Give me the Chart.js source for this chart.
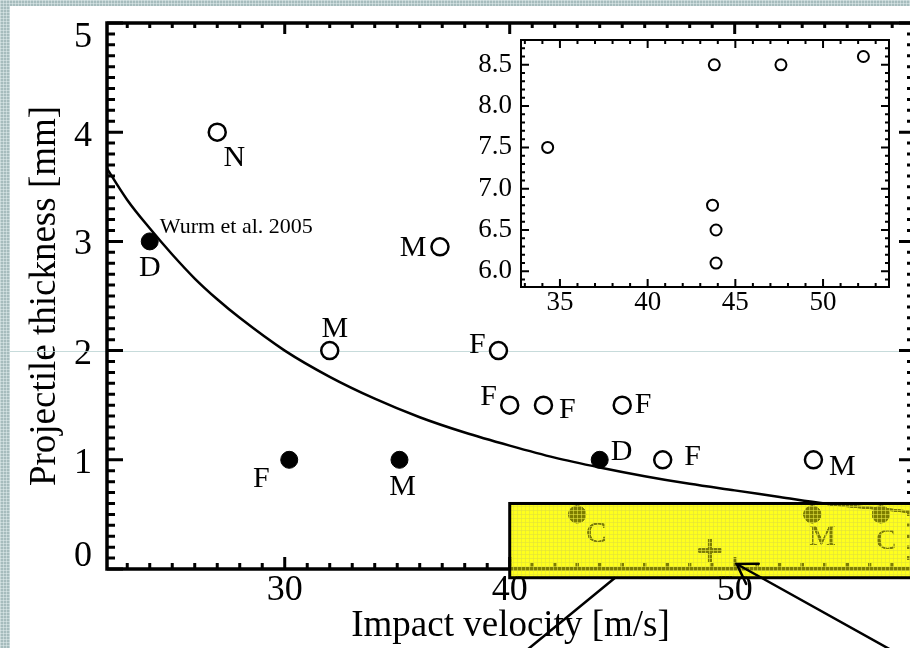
<!DOCTYPE html>
<html>
<head>
<meta charset="utf-8">
<script src="https://cdn.jsdelivr.net/npm/chart.js@4.4.1/dist/chart.umd.min.js"></script>
<style>
  html, body { margin:0; padding:0; width:910px; height:648px; overflow:hidden; }
  body {
    position:relative;
    background-color:#a6bcbd;
    background-image:
      linear-gradient(90deg, rgba(235,245,245,0.45) 1px, transparent 1px),
      linear-gradient(rgba(235,245,245,0.45) 1px, transparent 1px);
    background-size:3px 3px;
  }
  #paper { position:absolute; left:10px; top:6px; width:900px; height:642px; background:#fff; }
  #main { position:absolute; left:0; top:0; }
  #inset { position:absolute; left:470px; top:30px; }
</style>
</head>
<body>
<div id="paper"></div>
<canvas id="main" width="940" height="648"></canvas>
<canvas id="inset" width="430" height="290"></canvas>
<script>
// ---------------- data ----------------
const xTitle = 'Impact velocity [m/s]';
const yTitle = 'Projectile thickness [mm]';
const xTickValues = [30, 40, 50];
const yTickValues = [0, 1, 2, 3, 4, 5];

// open circles (with labels)
const openVel = [27.0, 36.9, 32.0, 39.5, 40.0, 41.5, 45.0, 46.8, 53.5];
const openThk = [4.0, 2.95, 2.0, 2.0, 1.5, 1.5, 1.5, 1.0, 1.0];
const openLab = ['N', 'M', 'M', 'F', 'F', 'F', 'F', 'F', 'M'];

// filled circles
const fillVel = [24.0, 30.2, 35.1, 44.0];
const fillThk = [3.0, 1.0, 1.0, 1.0];
const fillLab = ['D', 'F', 'M', 'D'];
const refNote = 'Wurm et al. 2005';

// points under the highlighted (yellow) band
const bandVel = [43.0, 53.45, 56.5];
const bandThk = [0.5, 0.5, 0.5];
const bandLab = ['C', 'M', 'C'];
const crossVel = [48.9];
const crossThk = [0.17];

// fitted curve
const curveVel = [22, 23, 24, 25, 26, 27, 28, 30, 32, 34, 36, 38, 40, 42, 44, 46, 48, 50, 52, 54, 56, 58];
const curveThk = [3.70, 3.38, 3.12, 2.88, 2.66, 2.47, 2.30, 2.00, 1.76, 1.56, 1.39, 1.25, 1.13, 1.02, 0.93, 0.85, 0.78, 0.72, 0.66, 0.60, 0.56, 0.52];

// inset
const insetXTicks = [35, 40, 45, 50];
const insetYTicks = [6.0, 6.5, 7.0, 7.5, 8.0, 8.5];
const insetVel = [34.3, 43.8, 47.6, 52.3, 43.7, 43.9, 43.9];
const insetVal = [7.5, 8.5, 8.5, 8.6, 6.8, 6.5, 6.1];

// ---------------- styles ----------------
const SERIF = "'Liberation Serif', 'Times New Roman', Times, serif";
const openOff = [[17, 26], [-27, 1], [5, -21], [-21, -5], [-21, -8], [24, 5], [21, 0], [30, -3], [29, 7]];
const fillOff = [[0, 27], [-28, 19], [3, 27], [22, -8]];
const bandOff = [[19, 20], [10, 23], [5, 27]];
const refOff = [10, -14];
// vertical nudge (px, + = down) of each y tick label, as in the original figure
const yLabelNudge = [-12, 4, 4, 3, 4, 15];

const toXY = (xs, ys) => xs.map((v, i) => ({x: v, y: ys[i]}));
const zeroPad = s => { s.paddingTop = 0; s.paddingBottom = 0; s.paddingLeft = 0; s.paddingRight = 0; };

function drawFrame(chart, o) {
  const {ctx, chartArea: a} = chart;
  const xs = chart.scales.x, ys = chart.scales.y;
  ctx.save();
  ctx.strokeStyle = '#000';
  ctx.lineCap = 'butt';
  ctx.lineWidth = o.tickW;
  ctx.beginPath();
  const i0 = Math.ceil(xs.min / o.xMinor - 1e-9), i1 = Math.floor(xs.max / o.xMinor + 1e-9);
  for (let i = i0; i <= i1; i++) {
    const v = i * o.xMinor, px = xs.getPixelForValue(v);
    const r = v / o.xMajor, maj = Math.abs(r - Math.round(r)) < 1e-6;
    ctx.moveTo(px, a.bottom); ctx.lineTo(px, a.bottom - (maj ? o.bMaj : o.bMin));
    ctx.moveTo(px, a.top); ctx.lineTo(px, a.top + (maj ? o.tMaj : o.tMin));
  }
  const j0 = Math.ceil(ys.min / o.yMinor - 1e-9), j1 = Math.floor(ys.max / o.yMinor + 1e-9);
  for (let j = j0; j <= j1; j++) {
    const v = j * o.yMinor, py = ys.getPixelForValue(v);
    const r = v / o.yMajor, maj = Math.abs(r - Math.round(r)) < 1e-6;
    ctx.moveTo(a.left, py); ctx.lineTo(a.left + (maj ? o.lMaj : o.lMin), py);
    ctx.moveTo(a.right, py); ctx.lineTo(a.right - (maj ? o.rMaj : o.rMin), py);
  }
  ctx.stroke();
  ctx.lineWidth = o.spine;
  ctx.strokeRect(a.left, a.top, a.right - a.left, a.bottom - a.top);
  ctx.restore();
}

function drawLabels(chart, xsArr, ysArr, labs, offs, font) {
  const {ctx} = chart;
  const xs = chart.scales.x, ys = chart.scales.y;
  ctx.save();
  ctx.fillStyle = '#000';
  ctx.font = font;
  ctx.textAlign = 'center';
  ctx.textBaseline = 'middle';
  labs.forEach((t, i) => {
    ctx.fillText(t, xs.getPixelForValue(xsArr[i]) + offs[i][0], ys.getPixelForValue(ysArr[i]) + offs[i][1]);
  });
  ctx.restore();
}

function arrowLine(ctx, xs, ys, x0, y0, x1, y1, head) {
  const ax = xs.getPixelForValue(x0), ay = ys.getPixelForValue(y0);
  const bx = xs.getPixelForValue(x1), by = ys.getPixelForValue(y1);
  ctx.beginPath(); ctx.moveTo(ax, ay); ctx.lineTo(bx, by); ctx.stroke();
  if (head) {
    const ang = Math.atan2(ay - by, ax - bx);
    const L = 22;
    ctx.beginPath();
    ctx.moveTo(bx + L * Math.cos(ang - 0.52), by + L * Math.sin(ang - 0.52));
    ctx.lineTo(bx, by);
    ctx.lineTo(bx + L * Math.cos(ang + 0.62), by + L * Math.sin(ang + 0.62));
    ctx.stroke();
  }
}

const mainPlugin = {
  id: 'mainDecor',
  beforeDatasetsDraw(chart) {
    const {ctx} = chart;
    const py = chart.scales.y.getPixelForValue(2);
    ctx.save();
    ctx.strokeStyle = 'rgba(185,210,210,0.8)';
    ctx.lineWidth = 1;
    ctx.beginPath(); ctx.moveTo(10, Math.round(py) + 0.5); ctx.lineTo(940, Math.round(py) + 0.5); ctx.stroke();
    ctx.restore();
  },
  afterDraw(chart) {
    const {ctx} = chart;
    const xs = chart.scales.x, ys = chart.scales.y;
    drawFrame(chart, {tickW: 3, spine: 3.5, xMinor: 1, xMajor: 10, yMinor: 0.1, yMajor: 1,
      bMaj: 12, bMin: 6, tMaj: 11, tMin: 5, lMaj: 16, lMin: 8, rMaj: 15, rMin: 7});
    const f = '30px ' + SERIF;
    drawLabels(chart, openVel, openThk, openLab, openOff, f);
    drawLabels(chart, fillVel, fillThk, fillLab, fillOff, f);
    drawLabels(chart, bandVel, bandThk, bandLab, bandOff, f);
    // reference note
    ctx.save();
    ctx.font = '22px ' + SERIF;
    ctx.fillStyle = '#000';
    ctx.textAlign = 'left';
    ctx.textBaseline = 'middle';
    ctx.fillText(refNote, xs.getPixelForValue(fillVel[0]) + refOff[0], ys.getPixelForValue(fillThk[0]) + refOff[1]);
    ctx.restore();

    // yellow highlight band
    const bx0 = xs.getPixelForValue(40), bx1 = xs.getPixelForValue(61);
    const by0 = ys.getPixelForValue(0.6), by1 = ys.getPixelForValue(-0.08);
    ctx.save();
    ctx.globalCompositeOperation = 'multiply';
    ctx.fillStyle = 'rgb(255,255,30)';
    ctx.fillRect(bx0, by0, bx1 - bx0, by1 - by0);
    ctx.globalCompositeOperation = 'lighten';
    ctx.fillStyle = 'rgb(125,125,0)';
    ctx.fillRect(bx0, by0, bx1 - bx0, by1 - by0);
    ctx.globalCompositeOperation = 'source-over';
    ctx.strokeStyle = 'rgba(225,225,60,0.6)';
    ctx.lineWidth = 1;
    ctx.beginPath();
    for (let x = bx0 + 3; x < bx1; x += 4) { ctx.moveTo(Math.round(x) + 0.5, by0); ctx.lineTo(Math.round(x) + 0.5, by1); }
    for (let y = by0 + 3; y < by1; y += 4) { ctx.moveTo(bx0, Math.round(y) + 0.5); ctx.lineTo(bx1, Math.round(y) + 0.5); }
    ctx.stroke();
    ctx.strokeStyle = '#000';
    ctx.lineWidth = 3;
    ctx.strokeRect(bx0, by0, bx1 - bx0, by1 - by0);
    // arrows
    ctx.lineWidth = 2.5;
    ctx.lineCap = 'round';
    arrowLine(ctx, xs, ys, 44.67, -0.082, 40.6, -0.77, false);
    arrowLine(ctx, xs, ys, 57.2, -0.77, 50.09, 0.046, true);
    ctx.restore();
  }
};

new Chart(document.getElementById('main'), {
  type: 'scatter',
  data: {
    datasets: [
      { type: 'line', data: toXY(curveVel, curveThk), borderColor: '#000', borderWidth: 2.5,
        pointRadius: 0, cubicInterpolationMode: 'monotone', fill: false, order: 5 },
      { data: toXY(openVel, openThk), pointStyle: 'circle', pointRadius: 8.5, borderWidth: 2.5,
        borderColor: '#000', backgroundColor: '#fff', clip: false, order: 1 },
      { data: toXY(fillVel, fillThk), pointStyle: 'circle', pointRadius: 8.5, borderWidth: 1,
        borderColor: '#000', backgroundColor: '#000', clip: false, order: 1 },
      { data: toXY(bandVel, bandThk), pointStyle: 'circle', pointRadius: 8.5, borderWidth: 1,
        borderColor: '#000', backgroundColor: '#000', clip: false, order: 1 },
      { data: toXY(crossVel, crossThk), pointStyle: 'cross', pointRadius: 11.5, borderWidth: 4,
        borderColor: '#000', clip: false, order: 1 }
    ]
  },
  options: {
    responsive: false,
    animation: false,
    events: [],
    layout: { padding: { left: 0, top: 23, right: 26, bottom: 0 } },
    plugins: { legend: { display: false }, tooltip: { enabled: false } },
    scales: {
      x: {
        type: 'linear', position: 'bottom', min: 22.1, max: 57.97,
        grid: { display: false, drawTicks: false }, border: { display: false },
        afterBuildTicks: s => { s.ticks = xTickValues.map(v => ({value: v})); },
        afterFit: s => { s.height = 79; zeroPad(s); },
        ticks: { color: '#000', padding: 0, font: { family: SERIF, size: 36 } },
        title: { display: true, text: xTitle, color: '#000', padding: 0,
          font: { family: SERIF, size: 37 } }
      },
      y: {
        type: 'linear', position: 'left', min: 0, max: 5,
        grid: { display: false, drawTicks: false }, border: { display: false },
        afterBuildTicks: s => { s.ticks = yTickValues.map(v => ({value: v})); },
        afterFit: s => { s.width = 107; zeroPad(s); },
        ticks: {
          color: '#000', padding: 15,
          callback: (v, i) => (yLabelNudge[i] >= 0 ? ['', String(v)] : [String(v), '']),
          font: c => ({ family: SERIF, size: 36,
            lineHeight: Math.max(2 * Math.abs(yLabelNudge[c.index] || 0), 1) + 'px' })
        },
        title: { display: true, text: yTitle, color: '#000', padding: { top: 23, bottom: 0 },
          font: { family: SERIF, size: 37 } }
      }
    }
  },
  plugins: [mainPlugin]
});

// ---------------- inset ----------------
const insetPlugin = {
  id: 'insetDecor',
  afterDraw(chart) {
    drawFrame(chart, {tickW: 2, spine: 2, xMinor: 1, xMajor: 5, yMinor: 0.1, yMajor: 0.5,
      bMaj: 8, bMin: 4, tMaj: 8, tMin: 4, lMaj: 8, lMin: 4, rMaj: 8, rMin: 4});
  }
};

new Chart(document.getElementById('inset'), {
  type: 'scatter',
  data: {
    datasets: [
      { data: toXY(insetVel, insetVal), pointStyle: 'circle', pointRadius: 5.5, borderWidth: 2,
        borderColor: '#000', backgroundColor: '#fff', clip: false }
    ]
  },
  options: {
    responsive: false,
    animation: false,
    events: [],
    layout: { padding: { left: 0, top: 10, right: 11, bottom: 0 } },
    plugins: { legend: { display: false }, tooltip: { enabled: false } },
    scales: {
      x: {
        type: 'linear', position: 'bottom', min: 32.78, max: 53.76,
        grid: { display: false, drawTicks: false }, border: { display: false },
        afterBuildTicks: s => { s.ticks = insetXTicks.map(v => ({value: v})); },
        afterFit: s => { s.height = 33; zeroPad(s); },
        ticks: { color: '#000', padding: 0, font: { family: SERIF, size: 27 } }
      },
      y: {
        type: 'linear', position: 'left', min: 5.81, max: 8.80,
        grid: { display: false, drawTicks: false }, border: { display: false },
        afterBuildTicks: s => { s.ticks = insetYTicks.map(v => ({value: v})); },
        afterFit: s => { s.width = 51; zeroPad(s); },
        ticks: { color: '#000', padding: 9, font: { family: SERIF, size: 27 },
          callback: v => v.toFixed(1) }
      }
    }
  },
  plugins: [insetPlugin]
});
</script>
</body>
</html>
